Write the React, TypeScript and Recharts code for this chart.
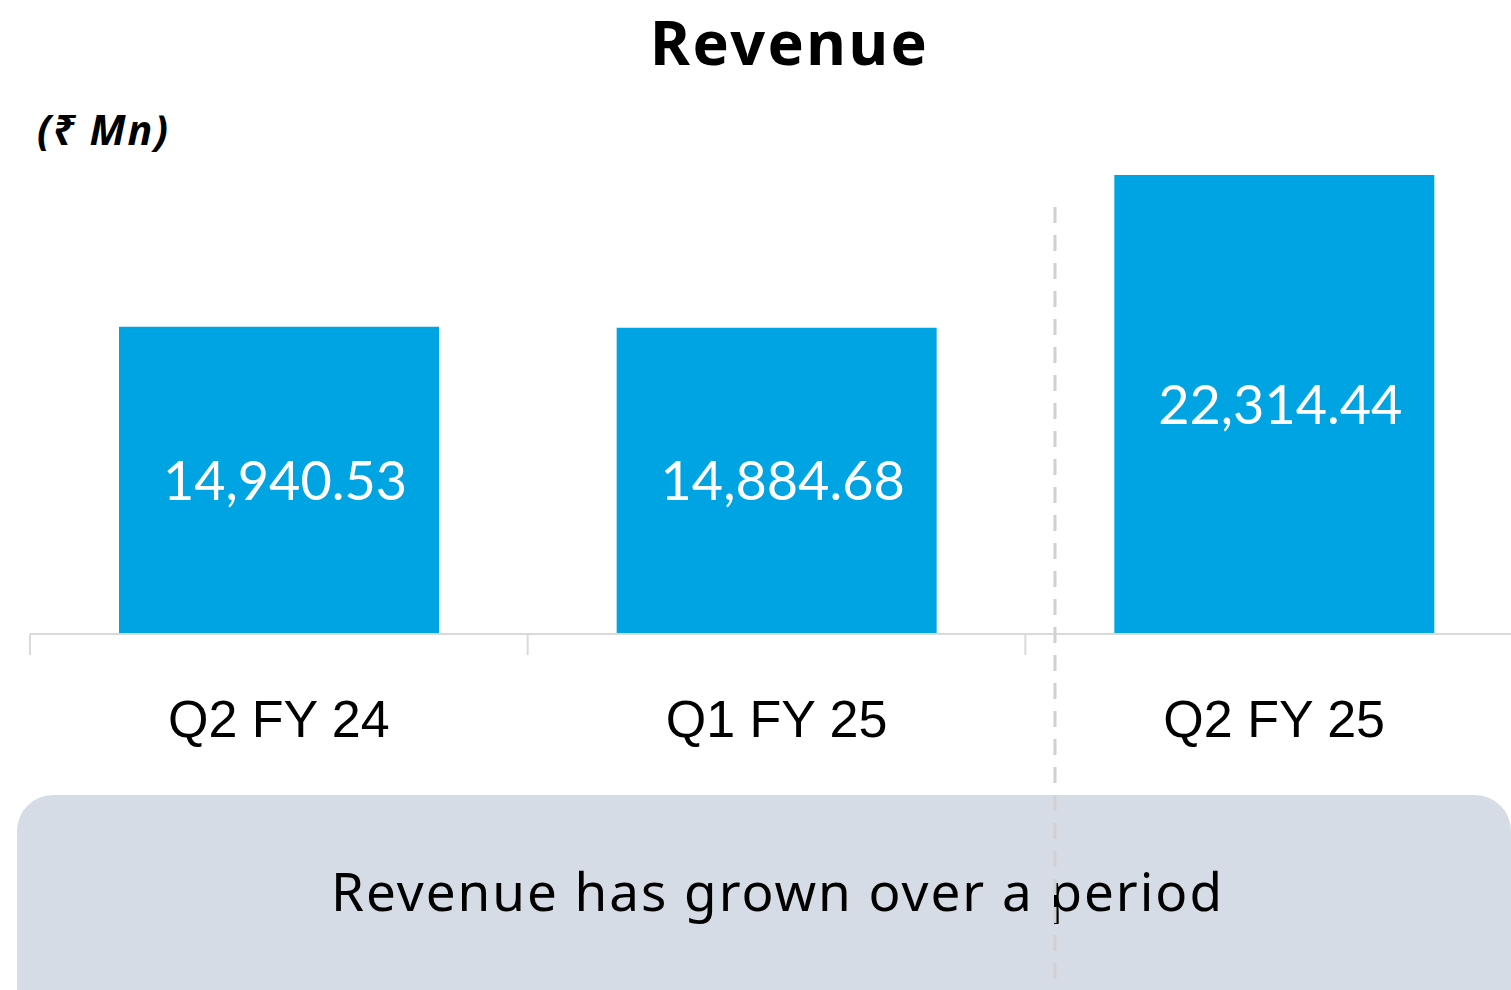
import React from "react";
import { BarChart, Bar, XAxis, YAxis, LabelList } from "recharts";

const quarters = ["Q2 FY 24", "Q1 FY 25", "Q2 FY 25"];
const revenue = [14940.53, 14884.68, 22314.44];
const valueLabels = ["14,940.53", "14,884.68", "22,314.44"];

const title = "Revenue";
const unitLabel = "(₹ Mn)";
const takeaway = "Revenue has grown over a period";

const BAR_COLOR = "#00A4E2";
const AXIS_COLOR = "#D9D9D9";

const CHART_W = 1530;
const CHART_H = 780;
const MARGIN = { top: 175, right: 7, bottom: 6, left: 30 };
const PLOT_BOTTOM = CHART_H - MARGIN.bottom - 140;
const BAND = (CHART_W - MARGIN.left - MARGIN.right) / quarters.length;

const data = quarters.map((q, i) => ({
  quarter: q,
  revenue: revenue[i],
  label: valueLabels[i],
}));

// tick text under each bar, plus a small separator line on the left edge of each category
const QuarterTick = (props: any) => {
  const { x, payload } = props;
  const left = x - BAND / 2;
  return (
    <g>
      <line x1={left} x2={left} y1={PLOT_BOTTOM} y2={PLOT_BOTTOM + 21} stroke={AXIS_COLOR} strokeWidth={2} />
      <text
        x={x}
        y={PLOT_BOTTOM + 103}
        textAnchor="middle"
        fontFamily="'Liberation Sans', Arial, sans-serif"
        fontSize={52}
        fill="#000"
      >
        {payload.value}
      </text>
    </g>
  );
};

const App: React.FC = () => {
  return (
    <div
      style={{
        position: "absolute",
        left: 0,
        top: 0,
        width: 1511,
        height: 990,
        overflow: "hidden",
        background: "#fff",
      }}
    >
      <div style={{ position: "absolute", left: 0, top: 0 }}>
        <BarChart width={CHART_W} height={CHART_H} data={data} margin={MARGIN}>
          <YAxis hide domain={[0, "dataMax"]} />
          <XAxis
            dataKey="quarter"
            height={140}
            axisLine={{ stroke: AXIS_COLOR, strokeWidth: 2 }}
            tickLine={false}
            tick={<QuarterTick />}
            interval={0}
          />
          <Bar dataKey="revenue" fill={BAR_COLOR} barSize={320} isAnimationActive={false}>
            <LabelList
              dataKey="label"
              position="center"
              dx={6}
              fill="#fff"
              fontFamily="Lato, 'Noto Sans', sans-serif"
              fontSize={54}
            />
          </Bar>
        </BarChart>
      </div>
      <svg
        width={1511}
        height={990}
        style={{ position: "absolute", left: 0, top: 0, pointerEvents: "none" }}
      >
        <text
          x={650}
          y={65}
          fontFamily="'Noto Sans', sans-serif"
          fontWeight={700}
          fontSize={61}
          textLength={277}
          lengthAdjust="spacing"
          fill="#000"
        >
          {title}
        </text>
        <text
          x={37}
          y={145}
          fontFamily="'Noto Sans', sans-serif"
          fontWeight={700}
          fontStyle="italic"
          fontSize={41}
          textLength={131}
          lengthAdjust="spacing"
          fill="#000"
        >
          {unitLabel}
        </text>
        <rect x={17} y={795} width={1494} height={240} rx={36} ry={36} fill="#D6DCE5" />
        <text
          x={331}
          y={911}
          fontFamily="'Noto Sans', sans-serif"
          fontSize={53}
          textLength={891}
          lengthAdjust="spacing"
          fill="#000"
        >
          {takeaway}
        </text>
        <line
          x1={1055}
          x2={1055}
          y1={207}
          y2={990}
          stroke="#D0D0D0"
          strokeWidth={3}
          strokeDasharray="16 12"
        />
      </svg>
    </div>
  );
};

export default App;
